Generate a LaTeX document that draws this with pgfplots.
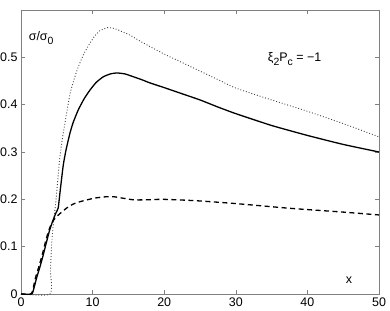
\documentclass[border=0pt]{standalone}
\usepackage{pgfplots}
\pgfplotsset{compat=1.18}
\usepackage{fontspec}
\setmainfont{Liberation Sans}
\begin{document}
\begin{tikzpicture}
\begin{axis}[
  scale only axis,
  width=358bp, height=284bp,
  xmin=0, xmax=50, ymin=0, ymax=0.6,
  xtick={0,10,20,30,40,50},
  ytick={0,0.1,0.2,0.3,0.4,0.5},
  yticklabels={0,0.1,0.2,0.3,0.4,0.5},
  tick align=inside,
  ticks=both,
  major tick length=4bp,
  axis line style={black!50, line width=0.8bp},
  every tick/.style={black!50, line width=0.6bp},
  tick label style={font=\fontsize{12.5}{14}\selectfont, black},
  /pgf/number format/assume math mode=true,
  xticklabel style={yshift=0bp},
  yticklabel style={xshift=0bp},
  clip=false,
]
\addplot[dotted, line width=0.9bp, black!75, smooth, tension=0.4] coordinates {
(0,0)(4.05,0)(4.12,0.05)(4.3,0.11)(4.6,0.16)(4.9,0.2)(5.4,0.285)(5.8,0.33)(6.15,0.362)(6.84,0.422)(7.4,0.453)(8.0,0.48)(8.8,0.508)(9.64,0.53)(10.3,0.545)(11.0,0.556)(12.05,0.5627)(13.0,0.561)(14,0.555)(15.2,0.547)(17,0.531)(20,0.507)(22.5,0.489)(25,0.471)(27.5,0.453)(30,0.435)(35,0.41)(40,0.386)(45,0.36)(50,0.332)
};
\addplot[black, line width=1.3bp, smooth, tension=0.3] coordinates {
(0,0)(1.5,0)(1.8,0.012)(2.2,0.035)(2.7,0.06)(3.1,0.082)(3.6,0.112)(4.0,0.135)(4.5,0.157)(4.9,0.172)(5.2,0.182)(5.45,0.215)(5.9,0.272)(6.3,0.305)(6.84,0.34)(7.3,0.363)(8.0,0.389)(8.8,0.412)(9.64,0.431)(10.5,0.447)(11.5,0.459)(12.5,0.465)(13.4,0.467)(14.5,0.465)(15.5,0.46)(17,0.452)(18,0.446)(20,0.436)(22.5,0.423)(25,0.41)(27.5,0.395)(30,0.381)(35,0.356)(40,0.335)(45,0.316)(50,0.3)
};
\addplot[black, line width=1.3bp, dash pattern=on 5bp off 3.5bp, smooth, tension=0.4] coordinates {
(0,0)(1.4,0)(1.7,0.012)(2.0,0.033)(2.5,0.058)(3.0,0.085)(3.5,0.115)(3.9,0.135)(4.3,0.15)(4.75,0.16)(5.45,0.17)(6.5,0.183)(7.3,0.19)(8.24,0.195)(10.1,0.202)(11.5,0.205)(12.9,0.2056)(14,0.203)(15.7,0.199)(17.5,0.199)(19.9,0.2)(24.5,0.197)(30,0.191)(37.6,0.181)(45,0.173)(50,0.167)
};
\node[anchor=west, font=\fontsize{12.5}{14}\selectfont] at (axis cs:0.6,0.54) {σ/σ\raisebox{-0.6ex}{\fontsize{10.5}{12}\selectfont 0}};
\node[anchor=west, font=\fontsize{12.5}{14}\selectfont] at (axis cs:34.0,0.497) {ξ\raisebox{-0.6ex}{\fontsize{10.5}{12}\selectfont 2}P\raisebox{-0.6ex}{\fontsize{10.5}{12}\selectfont c} = −1};
\node[font=\fontsize{12.5}{14}\selectfont] at (axis cs:45.8,0.03) {x};
\end{axis}
\pgfresetboundingbox
\path (current axis.south west) ++(-21bp,-17bp) coordinate (a);
\path (current axis.north east) ++(11bp,10bp) coordinate (b);
\useasboundingbox (a) rectangle (b);
\end{tikzpicture}
\end{document}
